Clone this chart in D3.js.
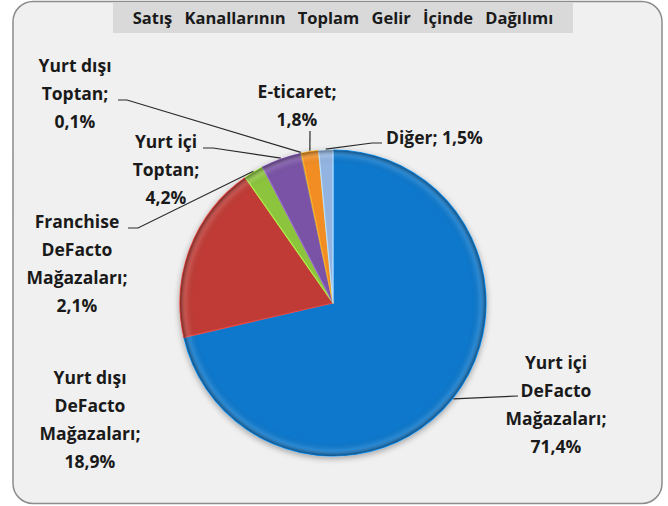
<!DOCTYPE html>
<html>
<head>
<meta charset="utf-8">
<script src="https://cdn.jsdelivr.net/npm/d3@7"></script>
<style>
  body { margin: 0; background: #fff; }
  text { font-family: "Open Sans", "Noto Sans", sans-serif; font-weight: bold; fill: #1a1a1a; }
</style>
</head>
<body>
<svg id="chart" width="668" height="506"></svg>
<script>
const WIDTH = 668
const HEIGHT = 506

const title = 'Satış Kanallarının Toplam Gelir İçinde Dağılımı'
const categories = ['Yurt içi DeFacto Mağazaları', 'Yurt dışı DeFacto Mağazaları', 'Franchise DeFacto Mağazaları',
                    'Yurt içi Toptan', 'Yurt dışı Toptan', 'E-ticaret', 'Diğer']
const values = [71.4, 18.9, 2.1, 4.2, 0.1, 1.8, 1.5]
const labelLines = [
    ['Yurt içi', 'DeFacto', 'Mağazaları;', '71,4%'],
    ['Yurt dışı', 'DeFacto', 'Mağazaları;', '18,9%'],
    ['Franchise', 'DeFacto', 'Mağazaları;', '2,1%'],
    ['Yurt içi', 'Toptan;', '4,2%'],
    ['Yurt dışı', 'Toptan;', '0,1%'],
    ['E-ticaret;', '1,8%'],
    ['Diğer; 1,5%']
]
const colors = ['#0a78cc', '#c03a34', '#8cc43c', '#7a52a6', '#6e6e6e', '#f18d20', '#93b4e0']

// label layout: x center, y of first line, leader end point (null = no leader)
const labelLayout = [
    {x: 556, y: 363, anchor: 'middle', end: [518, 396]},
    {x: 90, y: 378, anchor: 'middle', end: null},
    {x: 77, y: 222, anchor: 'middle', end: [128, 228], knee: [138, 228]},
    {x: 166, y: 142, anchor: 'middle', end: [203, 148], knee: [213, 148]},
    {x: 75, y: 66, anchor: 'middle', end: [118, 100], knee: [127, 100]},
    {x: 297, y: 92, anchor: 'middle', end: [310, 131]},
    {x: 386, y: 138, anchor: 'start', end: [382, 143], knee: [372, 143]}
]
const LINE_H = 28

const cx = 333, cy = 303, R = 153

const svg = d3.select('#chart')
const defs = svg.append('defs')

const shadow = defs.append('filter').attr('id', 'shadow')
    .attr('x', '-20%').attr('y', '-20%').attr('width', '140%').attr('height', '140%')
shadow.append('feGaussianBlur').attr('in', 'SourceAlpha').attr('stdDeviation', 3)
shadow.append('feOffset').attr('dx', 0).attr('dy', 2).attr('result', 'off')
shadow.append('feComponentTransfer').append('feFuncA').attr('type', 'linear').attr('slope', 0.35)
const merge = shadow.append('feMerge')
merge.append('feMergeNode')
merge.append('feMergeNode').attr('in', 'SourceGraphic')

// rim shading, in the pie group's coordinates
const rim = defs.append('radialGradient').attr('id', 'rim')
    .attr('gradientUnits', 'userSpaceOnUse')
    .attr('cx', 0).attr('cy', 0).attr('r', R)
rim.append('stop').attr('offset', '0%').attr('stop-color', '#000').attr('stop-opacity', 0)
rim.append('stop').attr('offset', '91%').attr('stop-color', '#000').attr('stop-opacity', 0)
rim.append('stop').attr('offset', '96%').attr('stop-color', '#fff').attr('stop-opacity', 0.1)
rim.append('stop').attr('offset', '100%').attr('stop-color', '#000').attr('stop-opacity', 0.4)

// frame
svg.append('rect')
    .attr('x', 13).attr('y', 1.5).attr('width', 649).attr('height', 502)
    .attr('rx', 20).attr('ry', 20)
    .attr('fill', '#f0f0f0').attr('stroke', '#8c8c8c').attr('stroke-width', 1.5)

svg.append('rect')
    .attr('x', 113).attr('y', 3).attr('width', 460).attr('height', 30)
    .attr('fill', '#d9d9d9')

const titleText = svg.append('text')
    .attr('x', 343).attr('y', 24)
    .attr('text-anchor', 'middle')
    .attr('font-size', 16.5)
    .text(title)
// stretch the gaps between words to the reference width
const gaps = title.split(' ').length - 1
const extra = (441 - titleText.node().getComputedTextLength()) / gaps
titleText.attr('word-spacing', Math.max(0, Math.min(8, extra)))

const pie = d3.pie().sort(null).value(d => d)
const arcs = pie(values)
const arc = d3.arc().innerRadius(0).outerRadius(R)

const g = svg.append('g').attr('transform', `translate(${cx},${cy})`)

g.append('g').attr('filter', 'url(#shadow)')
    .selectAll('path')
    .data(arcs)
    .enter().append('path')
    .attr('d', arc)
    .attr('fill', (d, i) => colors[i])
    .attr('stroke', (d, i) => d3.color(colors[i]).brighter(0.6))
    .attr('stroke-width', 1.2)
    .attr('stroke-linejoin', 'round')

g.append('g')
    .selectAll('path')
    .data(arcs)
    .enter().append('path')
    .attr('d', arc)
    .attr('fill', 'url(#rim)')

// leader lines
const leaders = svg.append('g')
    .attr('fill', 'none')
    .attr('stroke', '#2a2a2a')
    .attr('stroke-width', 1.2)

arcs.forEach((d, i) => {
    const lay = labelLayout[i]
    if (!lay.end) return
    const a = (d.startAngle + d.endAngle) / 2
    const start = [cx + (R + 1) * Math.sin(a), cy - (R + 1) * Math.cos(a)]
    const pts = [start]
    if (lay.knee) pts.push(lay.knee)
    pts.push(lay.end)
    leaders.append('path').attr('d', d3.line()(pts))
})

// labels
const labels = svg.append('g')
labelLines.forEach((lines, i) => {
    const lay = labelLayout[i]
    const t = labels.append('text')
        .attr('text-anchor', lay.anchor)
        .attr('font-size', 17.5)
    lines.forEach((ln, j) => {
        t.append('tspan')
            .attr('x', lay.x)
            .attr('y', lay.y + j * LINE_H)
            .attr('dy', '0.35em')
            .text(ln)
    })
})
</script>
</body>
</html>
